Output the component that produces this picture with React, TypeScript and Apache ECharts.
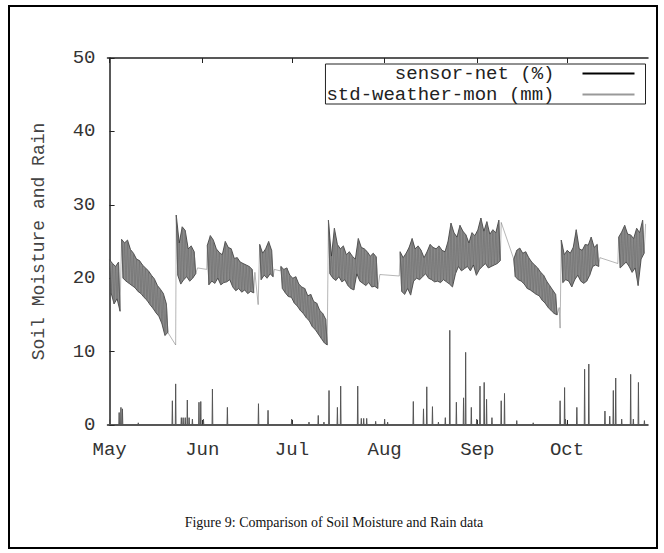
import React, { useEffect, useRef } from "react";
import * as echarts from "echarts";

// ---- Axis / tick data ----
const monthLabels = ["May", "Jun", "Jul", "Aug", "Sep", "Oct"];
const monthStarts = [0, 31, 61, 92, 123, 153]; // day offset from May 1
const yTicks = [0, 10, 20, 30, 40, 50];

// ---- Soil moisture (sensor-net, %) : daily high / low readings per stretch ----
const startA = 0;
const hiA = [22.5, 22.0, 21.6, 22.2];
const loA = [18.0, 16.5, 17.2, 15.5];

const startB = 4;
const hiB = [25.3, 24.8, 25.2, 23.9, 23.4, 22.6, 22.4, 21.8, 21.4, 21.0, 20.4, 19.9, 19.0, 18.5, 17.9, 16.5];
const loB = [20.0, 19.6, 19.3, 19.0, 18.7, 18.2, 17.9, 17.4, 17.0, 16.4, 15.9, 15.3, 14.8, 13.8, 12.2, 12.6];

const startC = 22.3;
const hiC = [28.6, 24.8, 27.0, 26.5, 24.0, 24.4, 23.6];
const loC = [20.4, 19.2, 19.8, 20.2, 19.6, 20.0, 20.6];

const startD = 32.7;
const hiD = [24.5, 25.8, 25.2, 24.0, 23.5, 23.2, 25.0, 24.2, 24.0, 22.7, 22.8, 22.2, 22.0, 21.8, 21.6, 21.2];
const loD = [19.1, 19.6, 19.3, 20.0, 19.1, 19.4, 19.5, 19.8, 18.8, 18.3, 18.6, 18.1, 18.4, 17.9, 18.2, 18.0];

const startE = 50.2;
const hiE = [24.6, 23.4, 24.0, 25.0, 23.8];
const loE = [19.8, 20.4, 20.0, 20.6, 20.2];

const startF = 57.3;
const hiF = [21.6, 21.2, 21.4, 20.4, 20.0, 20.2, 19.2, 18.8, 18.6, 17.6, 17.8, 16.8, 16.6, 15.6, 15.2, 14.4];
const loF = [18.6, 18.0, 17.5, 17.4, 16.6, 16.2, 15.6, 15.2, 14.6, 14.2, 13.4, 13.0, 12.4, 11.8, 11.2, 10.9];

const startG = 73.2;
const hiG = [27.9, 23.0, 26.8, 24.6, 24.0, 24.4, 23.2, 23.6, 23.0, 22.6, 25.4, 24.2, 24.0, 23.6, 23.0, 23.4, 22.9];
const loG = [20.6, 20.0, 19.7, 20.2, 19.5, 19.8, 19.0, 18.6, 18.4, 20.6, 19.6, 19.3, 19.0, 19.4, 18.8, 18.9, 18.6];

const startH = 97.2;
const hiH = [23.6, 22.8, 23.4, 24.2, 25.4, 24.0, 24.4, 23.8, 22.8, 23.6, 24.6, 24.2, 24.0, 24.4, 23.8, 23.6, 25.0,
  27.5, 26.2, 25.6, 27.2, 26.4, 25.9, 24.8, 26.2, 25.8, 26.6, 28.2, 26.4, 27.7, 26.0, 26.6, 26.2, 27.9];
const loH = [18.2, 17.8, 18.6, 17.7, 19.6, 20.0, 19.8, 20.2, 20.6, 20.0, 19.8, 19.5, 19.6, 19.4, 19.8, 19.5, 19.2,
  18.8, 20.6, 21.6, 21.0, 21.3, 21.6, 21.0, 21.8, 20.4, 21.2, 21.6, 22.0, 21.4, 21.6, 21.8, 22.0, 22.4];

const startI = 135.2;
const hiI = [22.6, 23.8, 24.1, 23.4, 23.6, 22.8, 22.2, 21.8, 21.4, 20.8, 20.4, 19.6, 19.0, 18.4, 17.8];
const loI = [20.2, 19.8, 19.6, 19.2, 18.6, 18.4, 18.1, 17.8, 17.6, 17.0, 16.6, 16.0, 15.6, 15.2, 15.0];

const startJ = 151.1;
const hiJ = [25.2, 23.2, 23.8, 23.4, 24.2, 26.6, 24.0, 23.8, 24.6, 24.5, 25.6, 24.2, 24.6];
const loJ = [19.4, 19.8, 19.6, 18.8, 19.8, 20.4, 19.6, 19.3, 19.6, 20.4, 21.6, 21.8, 21.6];

const startK = 170.3;
const hiK = [25.6, 26.3, 27.2, 26.0, 25.9, 25.4, 26.8, 26.2, 27.9];
const loK = [21.4, 21.8, 22.2, 21.6, 20.8, 21.4, 19.0, 22.6, 23.4];

// readings at the edges of the gaps in the sensor record: [day, %]
const moistureGapEdges = [
  [22.1, 10.9], [29.4, 21.4], [32.5, 21.2], [48.6, 20.8], [49.7, 16.4],
  [55.1, 21.2], [57.1, 21.0], [90.4, 20.5], [96.9, 20.3], [131.0, 27.6],
  [150.4, 16.0], [150.7, 13.2], [164.0, 22.8], [170.0, 22.0], [179.3, 27.4],
];

// ---- Rain (std-weather-mon, mm) ----
const rainDays = [0.1, 3.2, 3.8, 4.3, 9.6, 21.0, 22.1, 24.0, 24.6, 25.3, 26.0, 26.6, 27.7, 29.9, 30.5, 31.4, 34.4,
  39.4, 49.8, 53.0, 60.9, 66.7, 69.8, 71.7, 73.4, 76.2, 77.3, 83.0, 84.2, 85.0, 86.0, 89.0, 92.0, 93.0, 101.6,
  105.0, 106.1, 108.0, 110.0, 112.3, 113.8, 116.0, 118.4, 119.1, 121.0, 122.8, 123.9, 125.3, 126.1, 127.9,
  131.0, 132.1, 136.2, 141.7, 150.7, 152.2, 152.5, 156.3, 158.9, 160.3, 165.7, 167.3, 168.5, 169.3, 171.3,
  174.3, 175.2, 176.9, 178.9];
const rainMm = [0.8, 1.7, 2.4, 2.2, 0.3, 3.3, 5.6, 1.0, 1.0, 1.0, 3.4, 1.0, 0.8, 3.1, 3.2, 0.8, 4.9,
  2.4, 2.9, 2.0, 0.8, 0.4, 1.3, 0.4, 4.7, 2.4, 5.3, 5.3, 0.9, 0.9, 0.9, 0.5, 0.8, 0.4, 3.2,
  2.2, 5.2, 2.5, 0.4, 1.0, 12.9, 3.1, 3.7, 9.9, 2.4, 0.8, 5.3, 5.8, 3.5, 1.0,
  3.3, 4.3, 0.6, 0.3, 3.3, 5.1, 0.8, 2.4, 7.6, 8.3, 1.9, 1.2, 4.7, 6.4, 0.8,
  6.9, 0.8, 5.8, 0.6];

const X_MIN = -0.7;
const X_MAX = 180.1;

const SEGMENTS: [number, number[], number[]][] = [
  [startA, hiA, loA], [startB, hiB, loB], [startC, hiC, loC], [startD, hiD, loD],
  [startE, hiE, loE], [startF, hiF, loF], [startG, hiG, loG], [startH, hiH, loH],
  [startI, hiI, loI], [startJ, hiJ, loJ], [startK, hiK, loK],
];

function buildMoisture(): number[][] {
  const pts: number[][] = [];
  SEGMENTS.forEach(([s, hi, lo]) => {
    hi.forEach((h, i) => {
      pts.push([s + i, h]);
      pts.push([s + i + 0.5, lo[i]]);
    });
  });
  moistureGapEdges.forEach((p) => pts.push([p[0], p[1]]));
  pts.sort((a, b) => a[0] - b[0]);
  return pts;
}

function buildRain(): number[][] {
  const pts: number[][] = [[X_MIN + 0.2, 0]];
  rainDays.forEach((d, i) => {
    pts.push([d - 0.12, 0]);
    pts.push([d, rainMm[i]]);
    pts.push([d + 0.12, 0]);
  });
  pts.push([X_MAX, 0]);
  return pts;
}

const MONO = '"Liberation Mono", "DejaVu Sans Mono", monospace';
const AXIS_COLOR = "#222";
const TEXT_COLOR = "#333";

export default function App() {
  const ref = useRef<HTMLDivElement>(null);
  useEffect(() => {
    if (!ref.current) return;
    const chart = echarts.init(ref.current, null, { renderer: "svg" });
    const monthFmt = (v: number) => {
      const i = monthStarts.indexOf(Math.round(v));
      return i >= 0 ? monthLabels[i] : "";
    };
    const bandRender = (params: any, api: any) => {
      const seg = SEGMENTS[api.value(0)];
      const [s, hi, lo] = seg;
      const upper = hi.map((h, i) => api.coord([s + i, h]));
      const lower = lo.map((l, i) => api.coord([s + i + 0.5, l])).reverse();
      return {
        type: "polygon",
        shape: { points: upper.concat(lower) },
        style: { fill: "#8a8a8a", stroke: "#333", lineWidth: 0.8 },
        silent: true,
      };
    };
    chart.setOption({
      animation: false,
      backgroundColor: "#fff",
      grid: { left: 107.5, right: 16, top: 58, bottom: 128, containLabel: false },
      xAxis: [
        {
          type: "value",
          min: X_MIN,
          max: X_MAX,
          position: "bottom",
          axisLine: { show: true, onZero: false, lineStyle: { color: AXIS_COLOR, width: 1.5 } },
          axisTick: { show: true, inside: true, length: 5, customValues: monthStarts, lineStyle: { color: AXIS_COLOR } },
          axisLabel: {
            show: true,
            customValues: monthStarts,
            formatter: monthFmt,
            margin: 15,
            fontFamily: MONO,
            fontSize: 19,
            color: TEXT_COLOR,
          },
          splitLine: { show: false },
        },
        {
          type: "value",
          min: X_MIN,
          max: X_MAX,
          position: "top",
          axisLine: { show: true, onZero: false, lineStyle: { color: AXIS_COLOR, width: 1.5 } },
          axisTick: { show: true, inside: true, length: 5, customValues: monthStarts, lineStyle: { color: AXIS_COLOR } },
          axisLabel: { show: false },
          splitLine: { show: false },
        },
      ],
      yAxis: {
        type: "value",
        min: 0,
        max: 50,
        interval: 10,
        name: "Soil Moisture and Rain",
        nameLocation: "middle",
        nameGap: 60,
        nameRotate: 90,
        nameTextStyle: { fontFamily: MONO, fontSize: 18, color: "#444" },
        axisLine: { show: true, lineStyle: { color: AXIS_COLOR, width: 1.5 } },
        axisTick: { show: true, inside: true, length: 5, customValues: yTicks, lineStyle: { color: AXIS_COLOR } },
        axisLabel: { margin: 12, fontFamily: MONO, fontSize: 19, color: TEXT_COLOR },
        splitLine: { show: false },
      },
      legend: {
        orient: "vertical",
        right: 18.5,
        top: 64,
        align: "right",
        itemWidth: 52,
        itemHeight: 2,
        itemGap: 2,
        padding: [0, 11, 0, 1],
        borderColor: "#222",
        borderWidth: 1,
        backgroundColor: "#fff",
        selectedMode: false,
        data: [
          { name: "sensor-net (%)", icon: "rect", itemStyle: { color: "#000" } },
          { name: "std-weather-mon (mm)", icon: "rect", itemStyle: { color: "#999" } },
        ],
        formatter: (name: string) => `{t|${name}}`,
        textStyle: {
          rich: {
            t: {
              width: 230,
              align: "right",
              padding: [0, 23, 0, 0],
              fontFamily: MONO,
              fontSize: 19,
              color: "#222",
            },
          },
        },
      },
      graphic: [
        {
          type: "rect",
          shape: { x: 9, y: 6, width: 648, height: 542 },
          style: { fill: "none", stroke: "#000", lineWidth: 2 },
          silent: true,
          z: 100,
        },
        {
          type: "text",
          x: 334,
          y: 522,
          style: {
            text: "Figure 9: Comparison of Soil Moisture and Rain data",
            font: '14px "Liberation Serif", "Times New Roman", serif',
            fill: "#111",
            textAlign: "center",
            textVerticalAlign: "middle",
          },
          silent: true,
        },
      ],
      series: [
        {
          name: "moisture-band",
          type: "custom",
          xAxisIndex: 0,
          yAxisIndex: 0,
          data: SEGMENTS.map((_, i) => [i]),
          encode: { x: [], y: [] },
          renderItem: bandRender,
          silent: true,
          z: 1,
        },
        {
          name: "sensor-net (%)",
          type: "line",
          xAxisIndex: 0,
          yAxisIndex: 0,
          data: buildMoisture(),
          symbol: "none",
          showSymbol: false,
          lineStyle: { color: "#6c6c6c", width: 0.5 },
          itemStyle: { color: "#000" },
          silent: true,
          z: 2,
        },
        {
          name: "std-weather-mon (mm)",
          type: "line",
          xAxisIndex: 0,
          yAxisIndex: 0,
          data: buildRain(),
          symbol: "none",
          showSymbol: false,
          lineStyle: { color: "#555", width: 1 },
          itemStyle: { color: "#999" },
          silent: true,
          z: 3,
        },
      ],
    });
    return () => chart.dispose();
  }, []);
  return (
    <div
      ref={ref}
      style={{ position: "absolute", left: 0, top: 0, width: 664, height: 553, background: "#fff" }}
    />
  );
}
